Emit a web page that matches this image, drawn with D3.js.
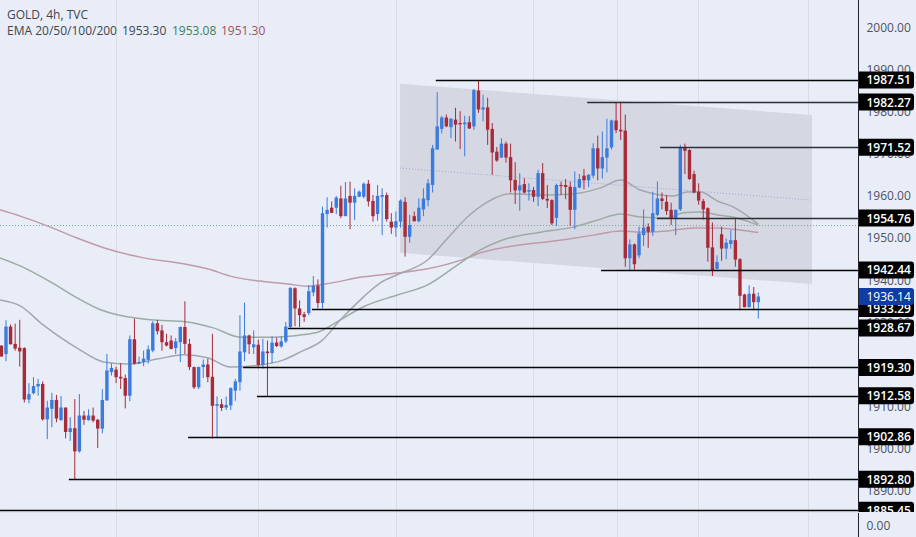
<!DOCTYPE html>
<html>
<head>
<meta charset="utf-8">
<script src="https://cdn.jsdelivr.net/npm/d3@7"></script>
<style>
  html, body { margin: 0; padding: 0; background: #e8edf8; }
  svg { display: block; }
  text { font-family: "Open Sans", "Noto Sans", sans-serif; }
</style>
</head>
<body>
<svg id="chart" width="916" height="537"></svg>
<script>
const opens = [
  1924.5,1922.5,1929.0,1924.9,1924.0,1923.9,1911.7,1913.2,1914.8,1915.4,
  1907.0,1909.5,1911.6,1906.8,1909.8,1904.0,1904.9,1899.4,1907.9,1906.8,
  1907.9,1906.9,1904.8,1911.5,1918.2,1918.8,1917.1,1916.8,1912.6,1926.0,
  1920.2,1920.6,1921.1,1923.3,1929.8,1928.1,1925.3,1925.7,1923.9,1925.3,
  1928.9,1924.9,1919.4,1914.6,1919.4,1920.0,1917.1,1910.2,1910.6,1909.8,
  1910.3,1913.8,1915.8,1922.9,1926.9,1924.1,1924.7,1919.9,1923.1,1922.7,
  1925.2,1924.3,1925.5,1928.9,1938.1,1933.3,1931.9,1932.2,1937.1,1938.7,
  1934.6,1955.7,1957.2,1957.2,1959.4,1955.2,1960.0,1958.4,1959.8,1959.8,
  1962.9,1958.8,1955.7,1959.8,1960.2,1953.9,1952.5,1953.9,1958.6,1950.3,
  1955.2,1954.0,1956.8,1959.0,1962.6,1971.0,1975.9,1978.6,1976.3,1978.1,
  1977.3,1977.0,1977.5,1976.5,1985.0,1980.5,1981.0,1975.9,1970.5,1969.1,
  1972.4,1969.2,1963.8,1961.3,1962.8,1961.0,1961.4,1959.8,1965.4,1959.3,
  1959.0,1954.8,1962.6,1962.6,1962.2,1956.7,1962.0,1964.8,1963.7,1964.8,
  1971.3,1966.5,1969.1,1971.5,1977.9,1975.7,1975.5,1945.2,1948.5,1945.9,
  1950.7,1952.7,1951.5,1955.5,1959.4,1958.6,1956.7,1954.7,1956.8,1971.5,
  1970.9,1965.2,1961.0,1958.8,1957.1,1947.8,1942.7,1950.9,1947.5,1948.6,
  1949.5,1945.0,1936.6,1933.6,1936.8,1934.8
];
const closes = [
  1921.9,1929.0,1924.8,1923.8,1923.1,1911.7,1913.0,1914.9,1915.4,1907.0,
  1909.8,1911.6,1907.2,1909.8,1904.0,1904.9,1899.4,1907.9,1906.9,1907.9,
  1906.7,1904.8,1911.6,1918.6,1919.2,1917.0,1916.7,1912.6,1926.0,1920.2,
  1920.6,1921.4,1923.6,1929.8,1927.9,1925.3,1924.5,1923.7,1925.5,1928.9,
  1924.9,1919.4,1914.6,1919.4,1920.0,1917.0,1910.2,1910.6,1909.7,1910.4,
  1914.4,1916.0,1923.1,1926.9,1924.8,1924.8,1919.9,1923.1,1922.7,1925.2,
  1924.4,1925.5,1929.0,1938.2,1933.3,1931.7,1931.3,1937.4,1938.7,1934.6,
  1955.9,1956.7,1956.0,1959.6,1955.2,1959.4,1958.4,1960.0,1961.0,1962.9,
  1958.7,1955.2,1960.0,1960.2,1954.5,1952.5,1954.0,1958.9,1950.3,1953.1,
  1954.0,1957.2,1959.4,1963.0,1971.3,1976.5,1978.6,1976.5,1978.3,1976.9,
  1977.0,1977.4,1976.0,1985.1,1980.5,1981.0,1975.7,1970.3,1968.4,1972.4,
  1969.1,1963.7,1961.3,1962.5,1960.8,1961.4,1959.8,1965.4,1959.3,1958.9,
  1953.5,1962.6,1962.4,1962.1,1956.7,1962.1,1964.0,1963.7,1965.0,1971.3,
  1966.5,1969.2,1971.3,1977.9,1975.6,1975.3,1945.2,1948.5,1943.8,1951.1,
  1952.5,1951.5,1955.9,1959.4,1958.8,1956.4,1954.7,1956.7,1971.5,1970.7,
  1964.0,1960.8,1958.9,1956.8,1947.7,1942.4,1944.3,1947.5,1948.9,1949.5,
  1944.9,1936.3,1933.6,1936.8,1934.8,1936.14
];
const highs = [
  1924.5,1930.5,1929.5,1929.7,1930.6,1924.1,1915.6,1917.0,1916.6,1916.0,
  1911.4,1913.3,1912.8,1912.5,1909.8,1907.5,1911.8,1913.0,1909.0,1909.4,
  1909.8,1907.1,1914.2,1922.5,1920.3,1919.5,1920.3,1917.6,1926.9,1930.9,
  1921.9,1923.3,1924.5,1930.3,1930.6,1929.4,1927.3,1926.9,1926.3,1929.0,
  1935.0,1926.1,1919.5,1919.5,1921.2,1921.4,1927.3,1912.4,1911.8,1912.4,
  1914.6,1916.6,1931.7,1934.7,1927.1,1928.1,1925.9,1926.1,1925.7,1926.7,
  1926.4,1926.7,1930.1,1938.3,1938.3,1935.2,1932.5,1938.8,1941.0,1940.2,
  1957.5,1959.7,1958.7,1960.0,1962.4,1963.3,1963.4,1961.8,1961.3,1963.2,
  1963.8,1960.2,1962.6,1961.8,1960.8,1955.9,1956.3,1959.2,1959.7,1955.5,
  1956.3,1959.4,1961.8,1964.0,1972.1,1984.6,1979.0,1979.3,1978.5,1980.9,
  1980.1,1979.0,1978.9,1985.4,1987.5,1984.0,1983.3,1977.3,1971.6,1973.7,
  1972.9,1972.4,1968.0,1965.4,1964.2,1963.0,1962.1,1966.2,1967.8,1962.6,
  1959.2,1962.9,1963.4,1964.0,1963.4,1965.8,1965.2,1966.4,1965.2,1972.5,
  1974.3,1975.3,1978.3,1978.1,1982.3,1982.3,1979.3,1949.7,1948.7,1952.7,
  1956.8,1953.5,1961.0,1963.4,1960.8,1960.2,1958.4,1956.8,1972.1,1972.4,
  1971.1,1966.0,1963.0,1959.3,1957.3,1953.7,1945.9,1952.7,1949.9,1951.9,
  1954.7,1945.2,1936.8,1938.8,1938.4,1937.1
];
const lows = [
  1921.9,1920.8,1924.8,1923.3,1919.5,1911.0,1910.8,1912.9,1912.6,1906.7,
  1902.3,1905.1,1906.3,1906.7,1902.5,1901.9,1892.8,1899.1,1905.7,1906.7,
  1906.3,1900.2,1903.7,1911.4,1917.4,1915.6,1914.2,1909.6,1911.3,1920.0,
  1920.2,1919.6,1920.2,1922.9,1927.1,1923.3,1924.3,1923.6,1922.5,1920.6,
  1922.5,1918.7,1914.2,1914.2,1916.8,1915.8,1902.4,1902.5,1909.0,1909.2,
  1909.2,1911.4,1913.8,1920.8,1922.5,1922.5,1919.1,1919.0,1912.3,1920.3,
  1924.1,1924.0,1925.1,1928.7,1929.1,1928.9,1930.1,1931.7,1936.2,1933.3,
  1933.3,1952.5,1955.9,1955.7,1954.7,1955.2,1952.1,1954.3,1959.7,1959.4,
  1957.5,1953.9,1954.1,1950.7,1953.9,1951.0,1950.3,1952.5,1945.6,1948.9,
  1953.9,1953.7,1955.2,1957.5,1960.8,1971.0,1974.8,1976.3,1973.7,1972.9,
  1971.1,1969.4,1975.9,1975.7,1979.7,1977.7,1972.1,1965.0,1968.1,1969.0,
  1967.9,1960.8,1958.1,1956.5,1960.6,1958.9,1958.6,1957.6,1959.0,1957.1,
  1953.1,1952.9,1960.2,1959.2,1952.9,1952.1,1961.8,1961.6,1962.1,1964.2,
  1963.7,1964.1,1965.6,1971.0,1974.9,1973.3,1943.2,1942.4,1942.5,1945.2,
  1948.1,1947.7,1950.5,1955.2,1956.8,1955.5,1953.1,1950.7,1956.4,1965.2,
  1963.8,1960.6,1957.9,1954.4,1944.4,1941.0,1942.5,1944.6,1945.0,1947.5,
  1943.2,1932.9,1933.6,1933.6,1932.9,1930.9
];

// EMA lines as [candle index, price]
const emaGrey = [
  [-0.3,1935.3],[4.1,1933.9],[9.1,1929.4],[16.5,1923.9],[22.3,1920.6],[27.5,1920.1],[34,1921.3],[39.7,1922.3],
  [44.9,1921.6],[49.9,1919.4],[56.4,1919.9],[61.5,1921.1],[65.2,1923.0],[70,1925.8],[73.9,1930.6],[78.9,1936.0],
  [82.6,1939.4],[86.3,1941.3],[92.9,1944.8],[97.3,1950.0],[101.6,1955.0],[106,1958.6],[111,1960.5],[119.6,1960.2],
  [126.2,1960.7],[130.6,1961.9],[135,1963.8],[139.3,1961.4],[146.5,1960.0],[149.5,1960.9],[152.4,1960.9],[156.1,1958.8],
  [159.5,1957.4],[165,1953.30]
];
const emaGreen = [
  [-0.3,1945.3],[4.1,1943.4],[10.7,1939.6],[16.5,1935.8],[21.6,1933.0],[26.6,1931.5],[32.5,1930.6],[40.5,1930.1],
  [46.2,1928.7],[52.1,1926.5],[59.3,1926.5],[65.2,1927.0],[69.1,1927.7],[73.9,1930.6],[78.9,1933.7],[86.3,1936.5],
  [92.9,1938.9],[99.4,1943.6],[104.4,1947.2],[109.4,1949.6],[117.5,1951.4],[124.6,1952.6],[130,1954.3],[135,1955.7],
  [139.3,1955.0],[145.2,1954.8],[148.7,1956.0],[152.4,1956.2],[156.1,1955.5],[159.5,1955.0],[165,1953.08]
];
const emaRed = [
  [-0.3,1956.7],[4.1,1955.2],[10.7,1952.6],[16.5,1950.0],[22.3,1947.7],[31,1945.3],[39.7,1943.9],[44.9,1942.7],
  [50.5,1940.8],[56.4,1939.8],[62.4,1939.1],[66.7,1938.6],[70.6,1939.1],[78.9,1940.8],[86.3,1941.7],[92.9,1942.7],
  [101.6,1945.3],[104.4,1946.5],[122.5,1949.6],[129,1950.7],[135,1951.7],[139.3,1951.4],[145.2,1951.7],[150.8,1952.4],
  [156.1,1952.4],[161.1,1951.9],[165,1951.30]
];

// channel drawing, [candle index, price]
const channelTop = [[86.9,1986.6],[176.7,1979.2]];
const channelBottom = [[86.9,1946.5],[176.7,1939.1]];
const channelMid = [[86.9,1966.6],[176.7,1959.0]];

const levelPrices = [1987.51,1982.27,1971.52,1954.76,1942.44,1933.29,1928.67,1919.30,1912.58,1902.86,1892.80,1885.45];
const levelStarts = [94.7,127.7,143.6,142.9,130.7,67.7,62.5,52.7,55.7,40.7,14.7,-0.3];

const priceTicks = [2000,1990,1980,1970,1960,1950,1940,1930,1920,1910,1900,1890];
const gridIndexes = [25,55.9,86,115.9,134.2,151.9,175.9];
const lastPrice = 1936.14;
const emaLast = 1953.08;

const width = 916;
const height = 537;
const axisX = 858.5;
const paneBottom = 512;

const upColor = '#3a7bdd';
const downColor = '#a82b3a';
const bgColor = '#e8edf8';

const svg = d3.select('#chart');

const xScale = d3.scaleLinear().domain([0,165]).range([1.4,758.3]);
const yScale = d3.scaleLinear().domain([2000,1890]).range([27.3,491]);

// vertical time grid
svg.append('g').selectAll('line')
  .data(gridIndexes)
  .enter().append('line')
  .attr('x1', d => Math.round(xScale(d)) + 0.5)
  .attr('x2', d => Math.round(xScale(d)) + 0.5)
  .attr('y1', 0)
  .attr('y2', height)
  .attr('stroke', '#d8dde8')
  .attr('stroke-width', 1);

// channel
svg.append('path')
  .attr('d', d3.line().x(d => xScale(d[0])).y(d => yScale(d[1]))(
    [channelTop[0], channelTop[1], channelBottom[1], channelBottom[0]]) + 'Z')
  .attr('fill', '#d5d8e3');

svg.append('path')
  .attr('d', d3.line().x(d => xScale(d[0])).y(d => yScale(d[1]))(channelMid))
  .attr('fill', 'none')
  .attr('stroke', '#9aa8d8')
  .attr('stroke-width', 1)
  .attr('stroke-dasharray', '1 2');

// last value dotted line
svg.append('line')
  .attr('x1', 0)
  .attr('x2', axisX)
  .attr('y1', Math.round(yScale(emaLast)) + 0.5)
  .attr('y2', Math.round(yScale(emaLast)) + 0.5)
  .attr('stroke', '#7fa3a0')
  .attr('stroke-width', 1)
  .attr('stroke-dasharray', '1 2');

// EMAs
const emaLine = d3.line()
  .x(d => xScale(d[0]))
  .y(d => yScale(d[1]))
  .curve(d3.curveMonotoneX);

[[emaRed,'#c09aa9'],[emaGreen,'#9caca4'],[emaGrey,'#a3a7ad']].forEach(([points,color]) => {
  svg.append('path')
    .attr('d', emaLine(points))
    .attr('fill', 'none')
    .attr('stroke', color)
    .attr('stroke-width', 1.5);
});

// candles
const candles = d3.range(opens.length);
const colorOf = i => closes[i] >= opens[i] ? upColor : downColor;

const candleG = svg.append('g');
candleG.selectAll('.wick')
  .data(candles)
  .enter().append('line')
  .attr('class', 'wick')
  .attr('x1', i => xScale(i))
  .attr('x2', i => xScale(i))
  .attr('y1', i => yScale(highs[i]))
  .attr('y2', i => yScale(lows[i]))
  .attr('stroke', colorOf)
  .attr('stroke-width', 1);

candleG.selectAll('.body')
  .data(candles)
  .enter().append('rect')
  .attr('class', 'body')
  .attr('x', i => xScale(i) - 1.7)
  .attr('width', 3.4)
  .attr('y', i => yScale(Math.max(opens[i], closes[i])))
  .attr('height', i => Math.max(1.2, Math.abs(yScale(opens[i]) - yScale(closes[i]))))
  .attr('fill', colorOf);

// horizontal levels, the ones lying over the channel look a bit lighter
svg.append('g').selectAll('line')
  .data(levelPrices)
  .enter().append('line')
  .attr('x1', (d,i) => xScale(levelStarts[i]))
  .attr('x2', axisX)
  .attr('y1', d => Math.round(yScale(d)) + 0.5)
  .attr('y2', d => Math.round(yScale(d)) + 0.5)
  .attr('stroke', d => (d > 1950 && d < 1985) ? '#2e2e36' : '#050505')
  .attr('stroke-width', 1.4);

// legend
svg.append('text').attr('x', 7).attr('y', 19).attr('font-size', 12).attr('fill', '#3f4450').text('GOLD, 4h, TVC');
svg.append('text').attr('x', 7).attr('y', 35).attr('font-size', 12).attr('fill', '#3f4450').text('EMA 20/50/100/200');
svg.append('text').attr('x', 122).attr('y', 35).attr('font-size', 12).attr('fill', '#3f4450').text('1953.30');
svg.append('text').attr('x', 172).attr('y', 35).attr('font-size', 12).attr('fill', '#3f7d55').text('1953.08');
svg.append('text').attr('x', 221).attr('y', 35).attr('font-size', 12).attr('fill', '#a3505f').text('1951.30');

// price axis
const axisG = svg.append('g')
  .attr('class', 'yAxis')
  .attr('transform', `translate(${axisX},0)`)
  .call(d3.axisRight(yScale).tickValues(priceTicks).tickSize(0).tickPadding(8).tickFormat(d3.format('.2f')));
axisG.select('.domain').remove();
axisG.selectAll('text')
  .attr('font-size', 12)
  .attr('fill', '#4d525e')
  .style('font-family', '"Open Sans", "Noto Sans", sans-serif');

// price tags
const tag = svg.append('g').selectAll('g')
  .data(levelPrices.concat([lastPrice]))
  .enter().append('g')
  .attr('transform', d => `translate(${axisX},${yScale(d)})`);

tag.append('path')
  .attr('d', 'M0,-8.5H52.5a3,3 0 0 1 3,3V5.5a3,3 0 0 1 -3,3H0Z')
  .attr('fill', d => d === lastPrice ? '#0f3da3' : '#000');

tag.append('text')
  .attr('x', 8)
  .attr('y', 4.5)
  .attr('font-size', 12)
  .attr('font-weight', d => d === lastPrice ? 400 : 600)
  .attr('fill', '#fff')
  .text(d => d.toFixed(2));

// bottom pane
svg.append('rect')
  .attr('x', 0)
  .attr('y', paneBottom)
  .attr('width', width)
  .attr('height', height - paneBottom)
  .attr('fill', bgColor);

svg.append('g').selectAll('line')
  .data(gridIndexes)
  .enter().append('line')
  .attr('x1', d => Math.round(xScale(d)) + 0.5)
  .attr('x2', d => Math.round(xScale(d)) + 0.5)
  .attr('y1', paneBottom)
  .attr('y2', height)
  .attr('stroke', '#d8dde8');

svg.append('line')
  .attr('x1', 0)
  .attr('x2', axisX)
  .attr('y1', paneBottom + 0.5)
  .attr('y2', paneBottom + 0.5)
  .attr('stroke', '#dfe4ef');

svg.append('line')
  .attr('x1', axisX)
  .attr('x2', axisX)
  .attr('y1', 0)
  .attr('y2', paneBottom - 1)
  .attr('stroke', '#20242c');

svg.append('line')
  .attr('x1', axisX)
  .attr('x2', axisX)
  .attr('y1', paneBottom + 1)
  .attr('y2', height)
  .attr('stroke', '#20242c');

svg.append('text')
  .attr('x', axisX + 8)
  .attr('y', 530)
  .attr('font-size', 12)
  .attr('fill', '#4d525e')
  .text('0.00');
</script>
</body>
</html>
